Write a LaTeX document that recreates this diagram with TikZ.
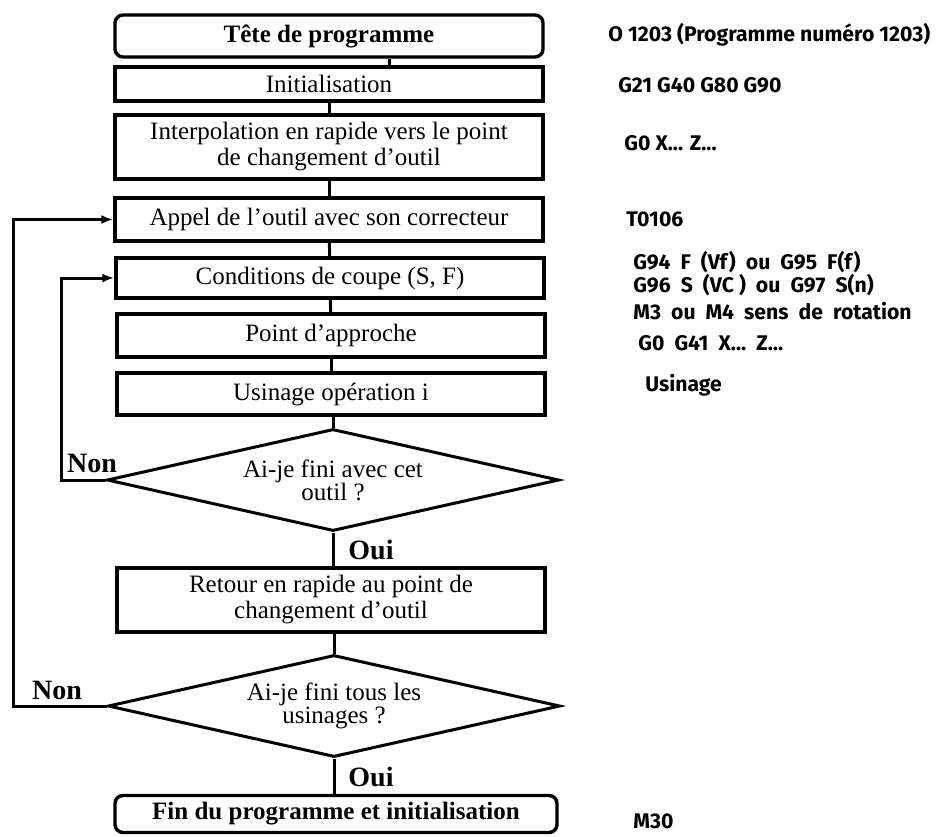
\documentclass[tikz,border=0pt]{standalone}
\usepackage{fontspec}
\setmainfont{Liberation Serif}
\newfontfamily\codefont{Fira Sans}
\usetikzlibrary{shapes.geometric,arrows.meta}

\tikzset{
box/.style={draw, line width=1.7pt, minimum width=214pt, inner sep=2pt, align=center, font=\fontsize{12.5}{13}\selectfont},
test/.style={diamond, draw, line width=1.5pt, aspect=4.4, minimum width=226pt, minimum height=51pt, inner sep=0pt, align=center, font=\fontsize{12.5}{11.5}\selectfont},
link/.style={line width=1.5pt},
back/.style={line width=1.5pt, -{Latex[length=6pt,width=4.5pt]}},
tag/.style={font=\fontsize{14}{14}\selectfont\bfseries},
code/.style={anchor=west, inner sep=0pt, font=\codefont\fontsize{10.6}{12}\selectfont\bfseries}
}

\begin{document}
\begin{tikzpicture}[x=0.5pt,y=-0.5pt]
\useasboundingbox (0,0) rectangle (946,836);
%main column
\node[box, rounded corners=4pt, minimum height=21pt] (tete) at (329,36) {\bfseries Tête de programme};
\node[box, minimum height=17pt] (init) at (329,84) {Initialisation};
\node[box, minimum height=32pt] (interp) at (329,147) {Interpolation en rapide vers le point\\de changement d'outil};
\node[box, minimum height=21.5pt] (appel) at (329,219.5) {Appel de l'outil avec son correcteur};
\node[box, minimum height=20pt] (cond) at (330,278) {Conditions de coupe (S, F)};
\node[box, minimum height=21.5pt] (approche) at (331,335.5) {Point d'approche};
\node[box, minimum height=21pt] (usinage) at (331,394) {Usinage opération i};
\node[test] (fini1) at (333,480) {Ai-je fini avec cet\\outil ?};
\node[box, minimum height=32pt] (retour) at (331,600) {Retour en rapide au point de\\changement d'outil};
\node[test] (fini2) at (334,706) {Ai-je fini tous les\\usinages ?};
\node[box, rounded corners=4pt, minimum width=221pt, minimum height=18.5pt] (fin) at (336,814) {\bfseries Fin du programme et initialisation};
% labels
\node[tag] (non1) at (92,463) {Non};
\node[tag] (non2) at (57,690) {Non};
\node[tag] (oui1) at (371,550) {Oui};
\node[tag] (oui2) at (371,777) {Oui};
% links
\draw[link] ([xshift=30pt]tete.south) -- ([xshift=30pt]init.north);
\draw[link] (init) -- (interp);
\draw[link] (interp) -- (appel);
\draw[link] (appel) -- (cond);
\draw[link] (cond) -- (approche);
\draw[link] (approche) -- (usinage);
\draw[link] (usinage.south -| fini1.north) -- (fini1.north);
\draw[link] (fini1.south) -- (fini1.south |- retour.north);
\draw[link] (retour.south -| fini2.north) -- (fini2.north);
\draw[link] (fini2.south) -- (fini2.south |- fin.north);
% loops back
\coordinate (outer) at (13,0);
\coordinate (inner) at (61,0);
\draw[back] (fini1.west) -- (fini1.west -| inner) |- (cond.west);
\draw[back] (fini2.west) -- (fini2.west -| outer) |- (appel.west);
% codes
\foreach \x/\y/\t [count=\i] in {608/35/{O 1203 (Programme numéro 1203)},
  618/85/{G21 G40 G80 G90}, 624/143/{G0 X... Z...}, 626/219/{T0106},
  633/262/{G94~~F~~(Vf)~~ou~~G95~~F(f)}, 633/285/{G96~~S~~(VC~)~~ou~~G97~~S(n)},
  633/311/{M3~~ou~~M4~~sens~~de~~rotation}, 638/343/{G0~~G41~~X…~~Z…},
  645/385/{Usinage}, 633/821/{M30}}{
\node[code] (code\i) at (\x,\y) {\t};
}
\end{tikzpicture}
\end{document}
